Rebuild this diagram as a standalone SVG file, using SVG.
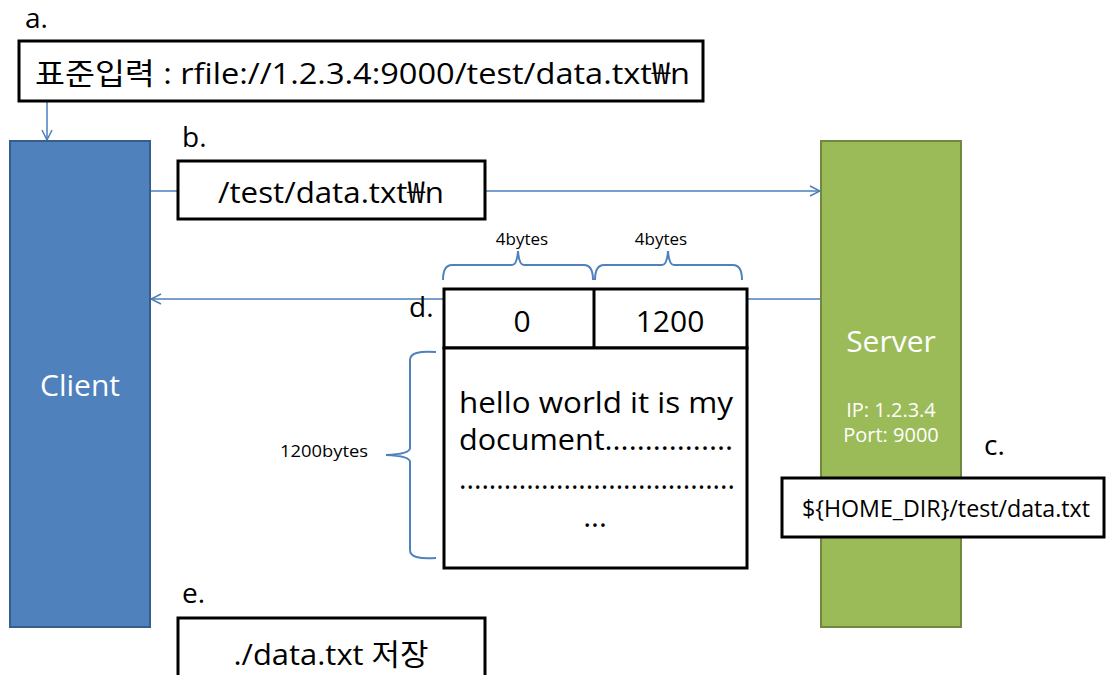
<svg xmlns="http://www.w3.org/2000/svg" width="1107" height="675" viewBox="0 0 1107 675">
  <style>
    text { font-family: "Open Sans", "Noto Sans CJK KR", sans-serif; fill: #000; }
    .box { fill: #fff; stroke: #000; stroke-width: 3; }
    .lbl { font-size: 28px; }
    .big { font-size: 30px; }
    .small { font-size: 17px; }
    .wire { fill: none; stroke: #4A7EBB; stroke-width: 1.5; }
    .brace { fill: none; stroke: #4F81BD; stroke-width: 2; }
  </style>
  <defs>
    <marker id="open" viewBox="0 0 12 12" refX="11" refY="6" markerWidth="12" markerHeight="12" markerUnits="userSpaceOnUse" orient="auto">
      <path d="M1,1 L11,6 L1,11" fill="none" stroke="#4A7EBB" stroke-width="1.5"/>
    </marker>
  </defs>

  <!-- connectors -->
  <g id="connectors">
    <line class="wire" x1="47" y1="101" x2="47" y2="140" marker-end="url(#open)"/>
    <line class="wire" x1="150" y1="191" x2="178" y2="191"/>
    <line class="wire" x1="485" y1="191" x2="820" y2="191" marker-end="url(#open)"/>
    <line class="wire" x1="821" y1="299" x2="747" y2="299"/>
    <line class="wire" x1="444" y1="299" x2="151" y2="299" marker-end="url(#open)"/>
  </g>

  <!-- step a: standard input -->
  <g id="step-a">
    <text class="lbl" x="25" y="28">a.</text>
    <rect class="box" x="19" y="41" width="684" height="60"/>
    <text class="big" x="35" y="84" textLength="655" lengthAdjust="spacingAndGlyphs">표준입력 : rfile://1.2.3.4:9000/test/data.txt₩n</text>
  </g>

  <!-- client -->
  <g id="client">
    <rect x="10" y="141" width="140" height="486" fill="#4F81BD" stroke="#385D8A" stroke-width="2"/>
    <text x="80" y="396" font-size="30" text-anchor="middle" style="fill:#fff">Client</text>
  </g>

  <!-- server -->
  <g id="server">
    <rect x="821" y="141" width="140" height="486" fill="#9BBB59" stroke="#71893F" stroke-width="2"/>
    <text x="891" y="352" font-size="30" text-anchor="middle" style="fill:#fff">Server</text>
    <text x="891" y="417" font-size="20" text-anchor="middle" style="fill:#fff">IP: 1.2.3.4</text>
    <text x="891" y="442" font-size="20" text-anchor="middle" style="fill:#fff">Port: 9000</text>
  </g>

  <!-- step b: request path -->
  <g id="step-b">
    <text class="lbl" x="182" y="147">b.</text>
    <rect class="box" x="178" y="161" width="307" height="58"/>
    <text class="big" x="331" y="203" text-anchor="middle" textLength="226" lengthAdjust="spacingAndGlyphs">/test/data.txt₩n</text>
  </g>

  <!-- step c: server-side file -->
  <g id="step-c">
    <text class="lbl" x="984" y="455">c.</text>
    <rect class="box" x="782" y="478" width="322" height="59"/>
    <text x="946" y="517" font-size="23" text-anchor="middle" textLength="288" lengthAdjust="spacingAndGlyphs">${HOME_DIR}/test/data.txt</text>
  </g>

  <!-- step d: response packet -->
  <g id="step-d">
    <text class="lbl" x="409" y="317">d.</text>
    <rect class="box" x="444" y="289" width="303" height="59"/>
    <line x1="594" y1="289" x2="594" y2="348" stroke="#000" stroke-width="3"/>
    <text class="big" x="522" y="332" text-anchor="middle">0</text>
    <text class="big" x="670" y="332" text-anchor="middle">1200</text>
    <rect class="box" x="444" y="348" width="303" height="220"/>
    <text class="big" x="459" y="413" textLength="274" lengthAdjust="spacingAndGlyphs">hello world it is my</text>
    <text class="big" x="459" y="450" textLength="274" lengthAdjust="spacingAndGlyphs">document................</text>
    <text class="big" x="459" y="489" textLength="276" lengthAdjust="spacingAndGlyphs">.....................................</text>
    <text class="big" x="595" y="527" text-anchor="middle">...</text>

    <!-- size braces -->
    <path class="brace" d="M443,280 Q443,265 452,265 L512,265 Q517,265 518,251 Q519,265 524,265 L584,265 Q593,265 593,280"/>
    <text class="small" x="522" y="245" text-anchor="middle">4bytes</text>
    <path class="brace" d="M595,280 Q595,265 604,265 L662,265 Q667,265 668,251 Q669,265 674,265 L733,265 Q742,265 742,280"/>
    <text class="small" x="661" y="245" text-anchor="middle">4bytes</text>
    <path class="brace" d="M436,352 Q410,350 410,360 L410,448 Q410,454 386,455 Q410,456 410,462 L410,550 Q410,560 436,558"/>
    <text class="small" x="280" y="457" textLength="88" lengthAdjust="spacingAndGlyphs">1200bytes</text>
  </g>

  <!-- step e: saved locally -->
  <g id="step-e">
    <text class="lbl" x="182" y="603">e.</text>
    <rect class="box" x="178" y="618" width="307" height="70"/>
    <text class="big" x="331" y="665" text-anchor="middle" textLength="195" lengthAdjust="spacingAndGlyphs">./data.txt 저장</text>
  </g>
</svg>
